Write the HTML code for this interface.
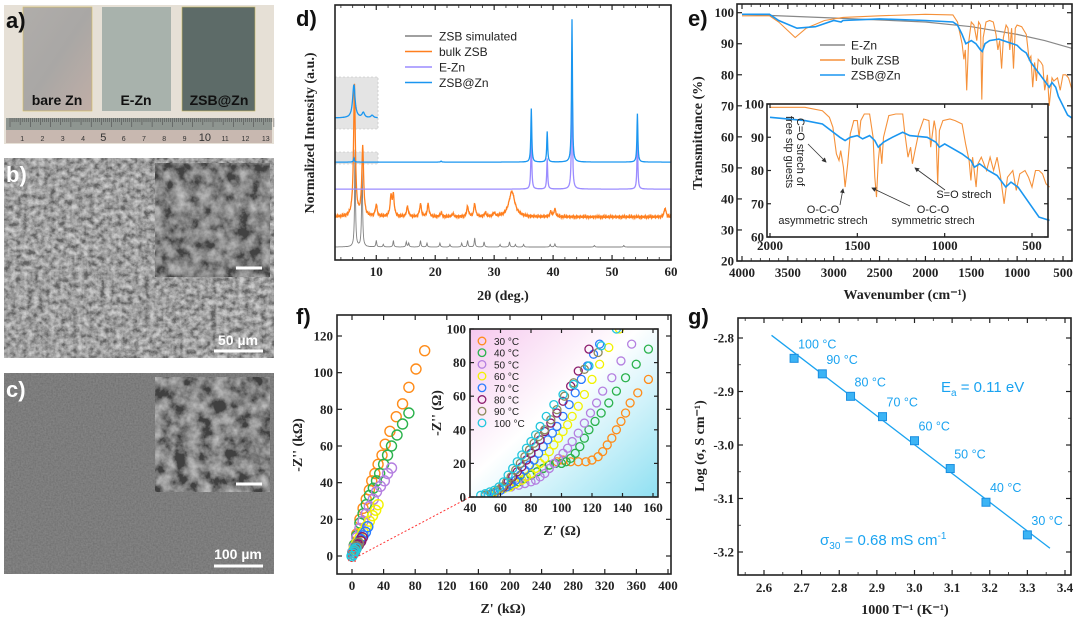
<!DOCTYPE html>
<html><head><meta charset="utf-8">
<style>
html,body{margin:0;padding:0;background:#fff;}
svg{display:block;}
.tk{font-family:"Liberation Serif",serif;font-weight:bold;font-size:13px;fill:#222;}
.ax{font-family:"Liberation Serif",serif;font-weight:bold;font-size:14px;fill:#222;}
.lg{font-family:"Liberation Sans",sans-serif;font-size:12px;fill:#222;}
.pl{font-family:"Liberation Sans",sans-serif;font-weight:bold;font-size:22px;fill:#111;}
</style></head>
<body>
<svg id="fig" width="1080" height="620" viewBox="0 0 1080 620" xmlns="http://www.w3.org/2000/svg">
<defs>
<filter id="semb" x="0" y="0" width="100%" height="100%"><feTurbulence type="fractalNoise" baseFrequency="0.18" numOctaves="4" seed="3"/><feColorMatrix type="saturate" values="0"/><feComponentTransfer><feFuncR type="linear" slope="2.2" intercept="-0.65"/><feFuncG type="linear" slope="2.2" intercept="-0.65"/><feFuncB type="linear" slope="2.2" intercept="-0.65"/><feFuncA type="linear" slope="0" intercept="0.5"/></feComponentTransfer><feComposite in2="SourceGraphic" operator="over"/></filter>
<filter id="semi" x="0" y="0" width="100%" height="100%"><feTurbulence type="fractalNoise" baseFrequency="0.08" numOctaves="4" seed="8"/><feColorMatrix type="saturate" values="0"/><feComponentTransfer><feFuncR type="linear" slope="2.2" intercept="-0.75"/><feFuncG type="linear" slope="2.2" intercept="-0.75"/><feFuncB type="linear" slope="2.2" intercept="-0.75"/><feFuncA type="linear" slope="0" intercept="0.5"/></feComponentTransfer><feComposite in2="SourceGraphic" operator="over"/></filter>
<filter id="semc" x="0" y="0" width="100%" height="100%"><feTurbulence type="fractalNoise" baseFrequency="0.6" numOctaves="2" seed="5"/><feColorMatrix type="saturate" values="0"/><feComponentTransfer><feFuncA type="linear" slope="0" intercept="0.15"/></feComponentTransfer><feComposite in2="SourceGraphic" operator="over"/></filter>
<linearGradient id="fin" x1="0" y1="0" x2="1" y2="1"><stop offset="0" stop-color="#f6c8ee"/><stop offset="0.45" stop-color="#fff"/><stop offset="1" stop-color="#8fe0f2"/></linearGradient>
<linearGradient id="bz" x1="0" y1="0" x2="1" y2="1"><stop offset="0" stop-color="#b0adaa"/><stop offset="0.5" stop-color="#a9a7a5"/><stop offset="1" stop-color="#c0aea6"/></linearGradient>
<clipPath id="clipF"><rect x="470" y="329" width="188" height="168"/></clipPath>
<clipPath id="clipD"><rect x="335" y="5" width="336" height="255"/></clipPath>
<marker id="arr" markerWidth="6" markerHeight="6" refX="5" refY="3" orient="auto"><path d="M0,0 L6,3 L0,6 z" fill="#333"/></marker>
</defs>

<g>
<rect x="4" y="5" width="270" height="139" fill="#e6e0d6"/>
<rect x="23" y="7" width="69" height="104" fill="url(#bz)" stroke="#d8c060" stroke-width="0.6"/>
<rect x="102" y="7" width="69" height="104" fill="#a8b2ac"/>
<rect x="182" y="7" width="73" height="104" fill="#5d6b68" stroke="#c8b860" stroke-width="0.6"/>
<rect x="6" y="118" width="266" height="12" fill="#8e9590"/>
<rect x="6" y="130" width="266" height="13" fill="#c8b8b0"/>
<text x="6" y="28" class="pl" fill="#000">a)</text>
<text x="57" y="105" font-family="Liberation Sans,sans-serif" font-weight="bold" font-size="14" fill="#111" text-anchor="middle">bare Zn</text>
<text x="136" y="105" font-family="Liberation Sans,sans-serif" font-weight="bold" font-size="14" fill="#111" text-anchor="middle">E-Zn</text>
<text x="219" y="105" font-family="Liberation Sans,sans-serif" font-weight="bold" font-size="14" fill="#111" text-anchor="middle">ZSB@Zn</text>
<g id="ruler"></g>
</g>

<g>
<rect x="4" y="158" width="270" height="200" fill="#868686" filter="url(#semb)"/>
<rect x="155" y="163" width="115" height="114" fill="#5e5e5e" filter="url(#semi)"/>
<line x1="236" y1="268" x2="262" y2="268" stroke="#fff" stroke-width="3"/>
<text x="6" y="182" class="pl" style="fill:#fff">b)</text>
<text x="238" y="345" font-family="Liberation Sans,sans-serif" font-weight="bold" font-size="14" fill="#fff" text-anchor="middle">50 µm</text>
<line x1="214" y1="351" x2="263" y2="351" stroke="#fff" stroke-width="3"/>
</g>

<g>
<rect x="4" y="373" width="270" height="201" fill="#6c6c6c" filter="url(#semc)"/>
<rect x="155" y="377" width="115" height="115" fill="#5a5a5a" filter="url(#semi)"/>
<line x1="236" y1="484" x2="262" y2="484" stroke="#fff" stroke-width="3"/>
<text x="6" y="397" class="pl" style="fill:#fff">c)</text>
<text x="238" y="559" font-family="Liberation Sans,sans-serif" font-weight="bold" font-size="14" fill="#fff" text-anchor="middle">100 µm</text>
<line x1="214" y1="566" x2="263" y2="566" stroke="#fff" stroke-width="3"/>
</g>

<g id="pd"></g>
<g id="pe"></g>
<g id="pf"></g>
<g id="pg"></g>
</svg>
<script>
// ---------- DATA ----------
const dTraces = ['ZSB simulated','bulk ZSB','E-Zn','ZSB@Zn'];
const dColors = ['#808080','#ff7f1e','#9b8cff','#1a96f0'];
const dOffsets = [5.1, 16.9, 27.8, 38.4];
const dPeaksSim = [[6.4,38],[7.6,32],[10,2.5],[11.2,1],[12.9,2.5],[15.1,2],[15.5,1.5],[17.5,2.5],[18.6,1.5],[20.8,1.5],[22.5,1],[24.5,1.5],[25.5,2.5],[26.7,3.5],[28.3,2],[31,1],[32.6,2],[33.6,1],[35,1],[39.5,1],[40.3,1.2],[47,0.6],[52,0.6]];
const dPeaksBulk = [[6.3,52],[7.7,27],[10,4.7],[12.5,7.5],[12.9,8],[15.3,4],[17.5,5],[18.8,5],[21,1.5],[23,1.2],[25.5,4],[26.7,5],[28.5,1.5],[30,1.5],[33,10],[39.6,2],[40.3,3],[59,3.5]];
const dPeaksEZn = [[36.3,21],[39,12],[43.2,50],[54.3,19]];
const dPeaksZSB = [[6.2,1.5],[36.3,21],[39,12],[43.2,56],[54.3,19],[21,0.4]];
const dZoomPeaks = [[6.2,13],[7.8,2],[9.3,1]];
const dZoomBase = 55.7;
const dXTicks = [10,20,30,40,50,60];

const eGray = [[4000,99.5],[3000,98.3],[2000,97],[1500,95.5],[1000,93],[700,91],[400,88.5]];
const eOrange = [[4000,99],[3700,99],[3600,97],[3420,92],[3300,95],[3100,97.5],[2900,98.5],[2500,99],[2000,99.5],[1700,99.3],[1650,97],[1600,90],[1580,85],[1565,88],[1550,75],[1530,90],[1500,97],[1470,96],[1440,91],[1420,97],[1400,96],[1385,72],[1370,92],[1340,97],[1300,97.5],[1260,97],[1230,93],[1210,88],[1190,91],[1170,82],[1150,92],[1120,96],[1100,95],[1080,88],[1060,95],[1040,82],[1020,95],[1000,96],[950,95.5],[900,93],[870,85],[850,86],[830,76],[810,84],[790,78],[770,85],[740,84],[720,83],[700,75],[670,80],[650,70],[620,79],[600,78],[560,79],[530,75],[500,80],[470,80],[440,79],[400,75]];
const eBlue = [[4000,99.5],[3700,99.5],[3600,97.5],[3400,95],[3200,95.5],[3000,97.5],[2920,97],[2900,97.5],[2500,98],[2000,97.5],[1700,97],[1650,96],[1600,93],[1560,90],[1500,91],[1450,90],[1400,88],[1380,87.5],[1350,90],[1300,91],[1200,91.5],[1100,90.5],[1000,89.5],[950,88],[900,87],[850,84],[800,82],[750,80],[700,78],[650,76],[620,77.5],[580,76],[550,73],[500,70],[450,67],[400,66]];
const eInOrange = [[2000,99],[1800,99],[1700,98],[1660,96],[1640,93],[1620,85],[1605,83],[1595,86],[1580,81],[1570,75],[1555,82],[1540,91],[1520,95],[1500,95],[1490,90],[1480,95],[1460,97],[1430,97],[1410,90],[1400,78],[1390,72],[1380,83],[1370,88],[1360,82],[1350,90],[1320,96.5],[1280,97],[1240,97],[1230,92],[1210,84],[1195,87],[1185,82],[1170,86],[1150,91],[1120,95.5],[1090,95],[1080,87],[1070,91],[1060,95],[1050,92],[1040,76],[1030,92],[1010,95],[970,95.5],[940,95],[900,94],[880,88],[860,83],[850,77],[840,84],[820,75],[810,82],[790,84],[760,80],[740,84],[720,80],[700,84],[680,78],[660,70],[640,78],[610,80],[590,74],[570,79],[540,80],[520,78],[500,75],[480,80],[460,80],[440,79],[420,76],[400,75]];
const eInBlue = [[2000,96],[1800,95],[1700,94],[1650,92],[1600,90],[1570,89],[1540,90],[1500,90.5],[1470,89.5],[1430,90.5],[1400,89],[1380,87],[1350,88.5],[1300,90],[1240,91.5],[1200,90.5],[1100,90],[1050,88.5],[1030,87],[1000,88],[900,85],[850,83],[830,81],[800,82],[750,80],[700,78.5],[650,75],[620,76.5],[580,75],[540,72],[500,69],[460,66],[400,65]];
const eXTicks = [4000,3500,3000,2500,2000,1500,1000,500];
const eYTicks = [20,30,40,50,60,70,80,90,100];
const eInXTicks = [2000,1500,1000,500];
const eInYTicks = [60,70,80,90,100];

const fLabels = ['30 °C','40 °C','50 °C','60 °C','70 °C','80 °C','90 °C','100 °C'];
const fColors = ['#ff8c1a','#2bb24c','#b47fe0','#f2f200','#2a7bff','#8b1a6b','#8c8a5c','#22c6dc'];
const fMainX = [[1,3,6,10,14,18,22,25,29,33,38,42,48,56,64,72,81,92],[1,3,6,10,14,18,22,27,31,35,40,45,50,57,64,72],[1,3,6,10,14,18,22,27,31,36,41,45,50],[1,3,6,10,14,18,22,26,30,33],[1,3,5,8,11,14,17,20],[1,3,5,8,11,13],[1,2,4,6,8],[0,1,2,3,5]];
const fMainY = [[2,6,12,20,26,31,36,41,45,50,55,61,68,76,83,92,102,112],[2,6,11,18,23,28,33,37,41,45,50,55,60,66,72,78],[2,5,10,15,19,23,27,31,35,38,41,45,48],[1,4,7,10,13,16,19,22,25,28],[1,3,5,7,9,11,13,16],[1,2,4,6,8,10],[1,2,3,5,7],[0,1,2,3,4]];
const fInX = [[52,57,62,67,72,76,80,84,88,92,97,101,106,111,116,120,124,127,130,133,136,139,142,145,150,157],[52,57,62,67,72,76,80,84,88,92,96,100,103,106,109,112,115,118,122,126,131,136,142,149,157],[52,57,62,67,72,76,80,83,86,89,92,95,98,101,104,107,111,115,119,123,127,133,139,146],[52,57,62,66,70,74,77,80,83,86,89,92,95,98,101,104,107,111,115,120,125,131,138],[52,56,60,64,67,70,73,76,79,82,85,88,91,94,97,101,105,109,113,117,121,125],[50,54,58,62,65,68,71,74,77,80,83,86,89,93,97,101,106,111,118],[50,54,58,61,64,67,70,73,76,79,82,85,89,93,97,102,108,115,124],[47,50,53,56,59,62,65,68,71,74,77,80,83,86,90,95,101,108,118,126,136]];
const fInY = [[1,3,5,7,9,11,13,15,17,19,21,22,21,21,21,22,24,27,31,35,40,45,50,56,62,70],[1,3,5,7,9,11,13,15,17,19,20,20,21,23,26,30,35,40,45,50,56,63,71,79,88],[1,3,5,6,7,8,9,10,12,14,17,20,23,26,29,33,38,44,50,56,63,71,81,91],[1,3,5,6,8,10,12,14,17,20,23,27,31,35,39,43,48,54,61,70,79,89,100],[1,2,4,6,8,10,13,16,19,22,26,30,34,38,42,48,55,62,70,78,85,91],[1,2,4,6,9,12,15,18,22,26,30,34,39,44,50,57,66,75,88],[1,2,4,6,9,12,16,20,24,28,32,36,40,46,52,60,68,76,86],[1,2,3,4,6,9,13,17,21,25,29,33,37,42,48,55,61,67,78,90,100]];
const fXTicks = [0,40,80,120,160,200,240,280,320,360,400];
const fYTicks = [0,20,40,60,80,100,120];
const fInXTicks = [40,60,80,100,120,140,160];
const fInYTicks = [0,20,40,60,80,100];

const gX = [2.68,2.755,2.83,2.915,3.0,3.095,3.19,3.30];
const gY = [-2.838,-2.867,-2.909,-2.947,-2.992,-3.044,-3.107,-3.168];
const gLabels = ['100 °C','90 °C','80 °C','70 °C','60 °C','50 °C','40 °C','30 °C'];
const gFitX = [2.62,3.36];
const gFitY = [-2.795,-3.193];
const gXTicks = [2.6,2.7,2.8,2.9,3.0,3.1,3.2,3.3,3.4];
const gYTicks = [-2.8,-2.9,-3.0,-3.1,-3.2];

// ---------- HELPERS ----------
const NS='http://www.w3.org/2000/svg';
function mk(tag,parent){const e=document.createElementNS(NS,tag);parent.appendChild(e);return e;}
function sa(e,o){for(const k in o)e.setAttribute(k,o[k]);return e;}
function lin(d0,d1,r0,r1){return v=>r0+(v-d0)*(r1-r0)/(d1-d0);}
function txt(parent,x,y,s,cls,anchor){const t=mk('text',parent);sa(t,{x:x,y:y,'text-anchor':anchor||'middle'});if(cls)t.setAttribute('class',cls);t.textContent=s;return t;}
function frame(p,x0,y0,x1,y1,name){const r=mk('rect',p);sa(r,{x:x0,y:y0,width:x1-x0,height:y1-y0,fill:'none',stroke:'#222','stroke-width':1.6});


return r;}
function ticks(p,xs,X,y0,y1,minor,isX,len,lo,hi){
  xs.forEach(v=>{const pos=X(v);if(lo!==undefined&&(pos<lo-0.5||pos>hi+0.5))return;const l1=mk('line',p);const l2=mk('line',p);const L=len||4;
    if(isX){sa(l1,{x1:pos,x2:pos,y1:y1,y2:y1-L});sa(l2,{x1:pos,x2:pos,y1:y0,y2:y0+L});}
    else{sa(l1,{y1:pos,y2:pos,x1:y0,x2:y0+L});sa(l2,{y1:pos,y2:pos,x1:y1,x2:y1-L});}
    [l1,l2].forEach(l=>{sa(l,{stroke:'#222','stroke-width':minor?0.8:1.2});
      
      });
  });
}
function pathFrom(pts){return pts.map((p,i)=>(i?'L':'M')+p[0].toFixed(1)+','+p[1].toFixed(1)).join('');}

(function(){const g=document.getElementById('ruler');
 for(let i=0;i<=130;i++){const x=10+i*2.03;const l=mk('line',g);sa(l,{x1:x,x2:x,y1:118,y2:118+(i%10==0?9:(i%5==0?7:4)),stroke:'#444','stroke-width':0.5});
  
  }
 for(let n=1;n<=13;n++){const t=txt(g,10+(n-0.5)*20.3+2,141,String(n),null);sa(t,{'font-family':'Liberation Sans,sans-serif','font-size':(n==5||n==10)?11:7,fill:'#333'});
  
  }
})();

// ---------- PANEL D ----------
(function(){const p=document.getElementById('pd');
 const X=lin(3,60,335,671), Y=lin(0,100,260,5);
 const box1=mk('rect',p);sa(box1,{x:X(3),y:77,width:X(10.3)-X(3),height:52,fill:'#e4e4e4',stroke:'#bbb','stroke-dasharray':'2,2','stroke-width':0.6});
 
 
 const box2=mk('rect',p);sa(box2,{x:X(3),y:152,width:X(10.3)-X(3),height:12,fill:'#e4e4e4',stroke:'#bbb','stroke-dasharray':'2,2','stroke-width':0.6});
 
 
 const cg=mk('g',p);cg.setAttribute('clip-path','url(#clipD)');
 function trace(peaks,base,w,noise,x0,x1){const pts=[];let k=0;for(let t=x0;t<=x1;t+=0.05){let v=base;peaks.forEach(pk=>{const ww=pk[0]>30&&pk[0]<34&&noise?0.6:w;v+=pk[1]/(1+((t-pk[0])/ww)**2);});if(noise){k++;v+=0.45*Math.sin(k*1.7)*Math.cos(k*0.9);}pts.push([X(t),Y(v)]);}return pathFrom(pts);}
 const peakSets=[dPeaksSim,dPeaksBulk,dPeaksEZn,dPeaksZSB];
 [0,1,2,3].forEach(i=>{const pa=mk('path',cg);sa(pa,{d:trace(peakSets[i],dOffsets[i],i==1?0.18:0.09,i==1,3,60),fill:'none',stroke:dColors[i],'stroke-width':i==0?0.9:1.3});
   
   });
 const zp=mk('path',cg);sa(zp,{d:trace(dZoomPeaks,dZoomBase,0.25,false,3,10.3),fill:'none',stroke:dColors[3],'stroke-width':1.3});
 
 
 frame(p,335,5,671,260,'plot-frame-d');
 ticks(p,dXTicks,X,5,260,false,true,5);
 const mn=[];for(let v=4;v<=60;v+=2)if(v%10)mn.push(v);ticks(p,mn,X,5,260,true,true,3);
 dXTicks.forEach(v=>{const t=txt(p,X(v),276,String(v),'tk');});
 const xt=txt(p,503,300,'2θ (deg.)','ax');
 const yt=txt(p,0,0,'Normalized Intensity (a.u.)','ax');sa(yt,{transform:'translate(314,133) rotate(-90)'});
 
 
 const pl=txt(p,296,26,'d)','pl','start');
 dTraces.forEach((n,i)=>{const y=36+i*15.5;const l=mk('line',p);sa(l,{x1:405,x2:432,y1:y,y2:y,stroke:dColors[i],'stroke-width':1.5});
   
   
   const t=txt(p,439,y+4.5,n,'lg','start');
   
   });
})();

// ---------- PANEL E ----------
(function(){const p=document.getElementById('pe');
 const X=lin(4000,500,742,1063), Y=lin(100,20,12.7,261);
 const draw=(arr,Xs,Ys,col,w,name)=>{const pa=mk('path',p);sa(pa,{d:pathFrom(arr.map(q=>[Xs(q[0]),Ys(q[1])])),fill:'none',stroke:col,'stroke-width':w});
   
   };
 draw(eGray,X,Y,'#888',1.2,'ftir-e-zn');
 draw(eOrange,X,Y,'#f5913a',1.1,'ftir-bulk-zsb');
 draw(eBlue,X,Y,'#1a96f0',1.6,'ftir-zsb-zn');
 frame(p,737,4,1072,261,'plot-frame-e');
 ticks(p,eXTicks,X,4,261,false,true,5);
 const mn=[];for(let v=3900;v>=400;v-=100)if(v%500)mn.push(v);ticks(p,mn,X,4,261,true,true,3);
 ticks(p,eYTicks,Y,737,1072,false,false,5);
 eXTicks.forEach(v=>{const t=txt(p,X(v),277,String(v),'tk');});
 eYTicks.forEach(v=>{const t=txt(p,734,Y(v)+4.5,String(v),'tk','end');});
 const xt=txt(p,905,299,'Wavenumber (cm⁻¹)','ax');
 const yt=txt(p,0,0,'Transmittance (%)','ax');sa(yt,{transform:'translate(702,133) rotate(-90)'});
 
 
 const pl=txt(p,688,26,'e)','pl','start');
 [['E-Zn','#888'],['bulk ZSB','#f5913a'],['ZSB@Zn','#1a96f0']].forEach((q,i)=>{const y=45+i*15;const l=mk('line',p);sa(l,{x1:820,x2:845,y1:y,y2:y,stroke:q[1],'stroke-width':1.6});
   
   
   const t=txt(p,851,y+4.5,q[0],'lg','start');
   
   });
 const bg=mk('rect',p);sa(bg,{x:767,y:104,width:281,height:133,fill:'#fff'});
 
 
 const Xi=lin(2000,500,770,1032), Yi=lin(100,60,104,237);
 draw(eInOrange,Xi,Yi,'#f5913a',1.1,'inset-ftir-bulk-zsb');
 draw(eInBlue,Xi,Yi,'#1a96f0',1.6,'inset-ftir-zsb-zn');
 frame(p,767,104,1048,237,'inset-frame-e');
 ticks(p,eInXTicks,Xi,104,237,false,true,4);
 ticks(p,eInYTicks,Yi,767,1048,false,false,4);
 eInXTicks.forEach(v=>{const t=txt(p,Xi(v),250,String(v),'tk');});
 eInYTicks.forEach(v=>{const t=txt(p,764,Yi(v)+4.5,String(v),'tk','end');});
 const an=(x,y,s,a)=>{const t=txt(p,x,y,s,'lg',a||'middle');t.style.fontSize='11px';return t;};
 const a1=an(0,0,'C=O strech of');sa(a1,{transform:'translate(797,152) rotate(90)'});
 const a2=an(0,0,'free stp guests');sa(a2,{transform:'translate(786,152) rotate(90)'});
 an(823,213,'O-C-O');an(823,224,'asymmetric strech');
 an(933,213,'O-C-O');an(933,224,'symmetric strech');
 an(964,198,'S=O strech');
 [[808,144,826,162],[840,205,843,189],[910,206,872,188],[945,190,915,168]].forEach(c=>{const l=mk('line',p);sa(l,{x1:c[0],y1:c[1],x2:c[2],y2:c[3],stroke:'#333','stroke-width':0.8,'marker-end':'url(#arr)'});
   
   });
})();

// ---------- PANEL F ----------
(function(){const p=document.getElementById('pf');
 const X=lin(0,400,352,668), Y=lin(0,120,556,336);
 fMainX.forEach((xs,s)=>{xs.forEach((v,i)=>{const c=mk('circle',p);sa(c,{cx:X(v),cy:Y(fMainY[s][i]),r:5,fill:'none',stroke:fColors[s],'stroke-width':1.4});
   
   });});
 const dr=mk('rect',p);sa(dr,{x:X(-4),y:Y(3),width:X(4)-X(-4),height:Y(-3)-Y(3),fill:'none',stroke:'#f33','stroke-dasharray':'2,2','stroke-width':1});
 
 
 const dl=mk('line',p);sa(dl,{x1:X(4),y1:Y(-1),x2:470,y2:497,stroke:'#f33','stroke-dasharray':'2,2','stroke-width':1});
 
 
 frame(p,337,315,671,574,'plot-frame-f');
 ticks(p,fXTicks,X,315,574,false,true,5);
 ticks(p,fYTicks,Y,337,671,false,false,5);
 fXTicks.forEach(v=>{const t=txt(p,X(v),590,String(v),'tk');});
 fYTicks.forEach(v=>{const t=txt(p,333,Y(v)+4.5,String(v),'tk','end');});
 const xt=txt(p,503,613,"Z' (kΩ)",'ax');
 const yt=txt(p,0,0,"-Z'' (kΩ)",'ax');sa(yt,{transform:'translate(302,445) rotate(-90)'});
 
 
 const pl=txt(p,296,324,'f)','pl','start');
 const Xi=lin(40,160,470,653), Yi=lin(0,100,497,329);
 const bg=mk('rect',p);sa(bg,{x:470,y:329,width:188,height:168,fill:'url(#fin)'});
 
 
 const cg=mk('g',p);cg.setAttribute('clip-path','url(#clipF)');
 fInX.forEach((xs,s)=>{xs.forEach((v,i)=>{const c=mk('circle',cg);sa(c,{cx:Xi(v),cy:Yi(fInY[s][i]),r:4,fill:'none',stroke:fColors[s],'stroke-width':1.3});
   
   });});
 frame(p,470,329,658,497,'inset-frame-f');
 ticks(p,fInXTicks,Xi,329,497,false,true,4);
 ticks(p,fInYTicks,Yi,470,658,false,false,4);
 fInXTicks.forEach(v=>{const t=txt(p,Xi(v),512,String(v),'tk');});
 fInYTicks.forEach(v=>{const t=txt(p,466,Yi(v)+4.5,String(v),'tk','end');});
 const ixt=txt(p,562,535,"Z' (Ω)",'ax');
 const iyt=txt(p,0,0,"-Z'' (Ω)",'ax');sa(iyt,{transform:'translate(441,413) rotate(-90)'});
 
 
 fLabels.forEach((n,i)=>{const y=341+i*11.7;const c=mk('circle',p);sa(c,{cx:482,cy:y,r:3.8,fill:'none',stroke:fColors[i],'stroke-width':1.3});
   
   
   const t=txt(p,494,y+4,n,'lg','start');t.style.fontSize='10px';
   
   });
})();

// ---------- PANEL G ----------
(function(){const p=document.getElementById('pg');
 const X=lin(2.6,3.4,764,1065), Y=lin(-2.8,-3.2,338,552);
 const c='#1aa3f0';
 const fl=mk('line',p);sa(fl,{x1:X(gFitX[0]),y1:Y(gFitY[0]),x2:X(gFitX[1]),y2:Y(gFitY[1]),stroke:c,'stroke-width':1.3});
 
 
 gX.forEach((v,i)=>{const r=mk('rect',p);sa(r,{x:X(v)-4,y:Y(gY[i])-4,width:8,height:8,fill:'#3cb4f5',stroke:'#1a8ee0','stroke-width':1});
   
   
   const t=txt(p,X(v)+4,Y(gY[i])-10,gLabels[i],'lg','start');t.style.fill=c;t.style.fontSize='12.5px';
   
   });
 frame(p,738,318,1071,575,'plot-frame-g');
 ticks(p,gXTicks,X,318,575,false,true,5,738,1071);
 ticks(p,gYTicks,Y,738,1071,false,false,5,318,575);
 const mx=[];for(let v=2.55;v<3.45;v+=0.1)mx.push(v);ticks(p,mx,X,318,575,true,true,3,738,1071);
 const my=[];for(let v=-2.75;v>-3.25;v-=0.05)my.push(v);ticks(p,my,Y,738,1071,true,false,3,318,575);
 gXTicks.forEach(v=>{const t=txt(p,X(v),592,v.toFixed(1),'tk');});
 gYTicks.forEach(v=>{const t=txt(p,734,Y(v)+4.5,v.toFixed(1),'tk','end');});
 const xt=txt(p,905,614,'1000 T⁻¹ (K⁻¹)','ax');
 const yt=txt(p,0,0,'Log (σ, S cm⁻¹)','ax');sa(yt,{transform:'translate(704,446) rotate(-90)'});
 
 
 const pl=txt(p,688,324,'g)','pl','start');
 const ea=mk('text',p);sa(ea,{x:941,y:392,'font-family':'Liberation Sans,sans-serif','font-size':15,fill:c});
 ea.innerHTML='E<tspan font-size="10" dy="4">a</tspan><tspan dy="-4"> = 0.11 eV</tspan>';
 
 
 const sg=mk('text',p);sa(sg,{x:820,y:545,'font-family':'Liberation Sans,sans-serif','font-size':15,fill:c});
 sg.innerHTML='σ<tspan font-size="10" dy="4">30</tspan><tspan dy="-4"> = 0.68 mS cm</tspan><tspan font-size="10" dy="-6">-1</tspan>';
 
 
})();
</script>
</body></html>
